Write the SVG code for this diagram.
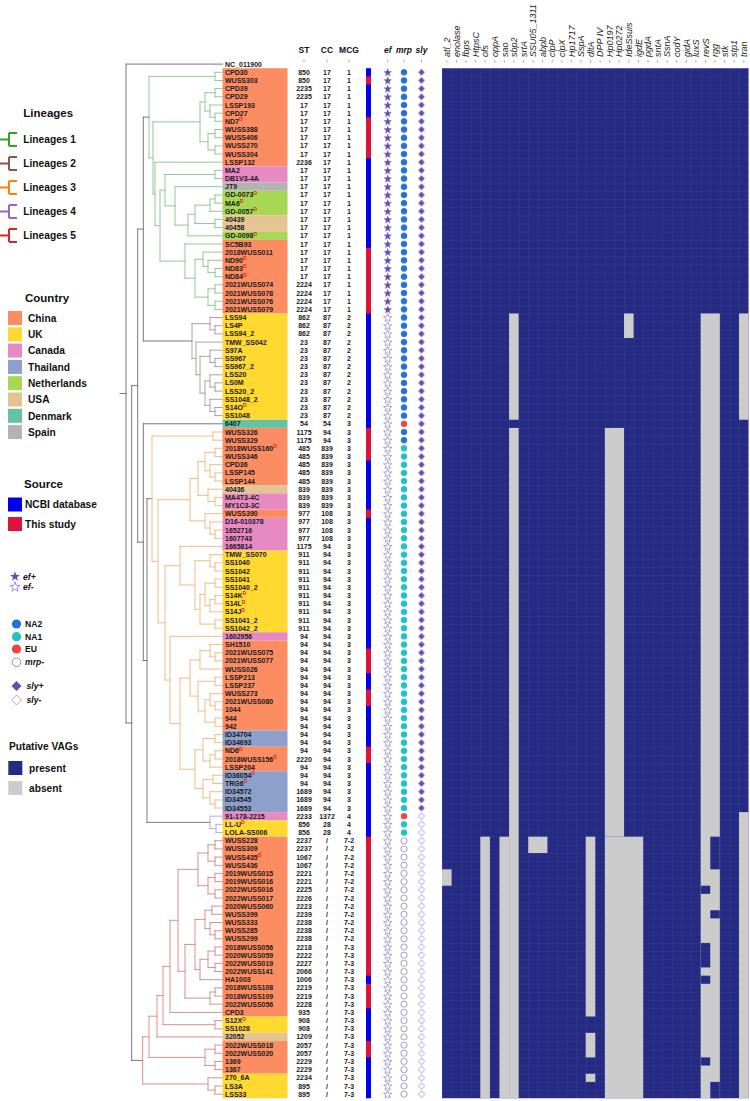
<svg xmlns="http://www.w3.org/2000/svg" xmlns:xlink="http://www.w3.org/1999/xlink" width="750" height="1101" viewBox="0 0 750 1101">
<style>
text{font-family:"Liberation Sans",Arial,sans-serif}
.nm{font-size:7px;font-weight:bold;fill:#1a1a1a}
.num{font-size:7px;font-weight:bold;fill:#1a1a1a;text-anchor:middle}
.d{font-size:5px;font-weight:bold;fill:#e8231f}
.hdr{font-size:8.5px;font-weight:bold;text-anchor:middle;fill:#111}
.it{font-style:italic}
.gene{font-size:9px;font-style:italic;text-anchor:start;fill:#222}
.lt{font-size:11.5px;font-weight:bold;fill:#111}
.li{font-size:10.2px;font-weight:bold;fill:#111}
.ls{font-size:8.6px;font-weight:bold;fill:#111}
.tk{stroke:#777;stroke-width:0.6;fill:none}
.br{fill:none;stroke-width:0.9;stroke-linecap:square}
.bb{stroke:#6b6b6b}
.l1{stroke:#86C38A}.l2{stroke:#AE9494}.l3{stroke:#F2B57A}.l4{stroke:#B3A0D6}.l5{stroke:#D48484}
.sf{fill:#6A4CAF}
.so{fill:#fff;stroke:#7B66B9;stroke-width:0.6}
.gr{fill:#CCCCCC}
.cn{fill:#FC8D62}.uk{fill:#FFD92F}.ca{fill:#E78AC3}.th{fill:#8DA0CB}.nl{fill:#A6D854}.us{fill:#E5C494}.dk{fill:#66C2A5}.es{fill:#B3B3B3}
</style>
<defs>
<path id="star" d="M0,-4.5L1.058,-1.456L4.28,-1.391L1.712,0.556L2.645,3.641L0,1.8L-2.645,3.641L-1.712,0.556L-4.28,-1.391L-1.058,-1.456Z"/>
<path id="dia" d="M0,-3.4L3.2,0L0,3.4L-3.2,0Z"/>
<pattern id="grid" patternUnits="userSpaceOnUse" x="442" y="68.2" width="9.58" height="8.175"><rect width="9.58" height="8.175" fill="#252B82"/><path d="M0,0.2H9.58M0.2,0V8.175" stroke="#414A9C" stroke-width="0.45"/></pattern>
<pattern id="pSF" patternUnits="userSpaceOnUse" x="378" y="68.2" width="20" height="8.175"><use href="#star" x="9.7" y="4.5" class="sf"/></pattern>
<pattern id="pSO" patternUnits="userSpaceOnUse" x="378" y="68.2" width="20" height="8.175"><use href="#star" x="9.7" y="4.5" class="so"/></pattern>
<pattern id="pNA2" patternUnits="userSpaceOnUse" x="394" y="68.2" width="20" height="8.175"><circle cx="10" cy="4.0875" r="3.2" fill="#2670DB"/></pattern>
<pattern id="pNA1" patternUnits="userSpaceOnUse" x="394" y="68.2" width="20" height="8.175"><circle cx="10" cy="4.0875" r="3.2" fill="#20C2C6"/></pattern>
<pattern id="pEU" patternUnits="userSpaceOnUse" x="394" y="68.2" width="20" height="8.175"><circle cx="10" cy="4.0875" r="3.2" fill="#EE4444"/></pattern>
<pattern id="pMO" patternUnits="userSpaceOnUse" x="394" y="68.2" width="20" height="8.175"><circle cx="10" cy="4.0875" r="3.1" fill="#fff" stroke="#6B55A8" stroke-width="0.6"/></pattern>
<pattern id="pDF" patternUnits="userSpaceOnUse" x="411.5" y="68.2" width="20" height="8.175"><use href="#dia" x="10" y="4.0875" class="sf"/></pattern>
<pattern id="pDO" patternUnits="userSpaceOnUse" x="411.5" y="68.2" width="20" height="8.175"><use href="#dia" x="10" y="4.0875" class="so"/></pattern>
</defs>
<rect width="750" height="1101" fill="#fff"/>

<g id="legend-lineages">
<text class="lt" x="23.3" y="116.5">Lineages</text>
<path d="M0,139.5H9M9,133V146M9,133H17M9,146H17" stroke="#33A02C" stroke-width="2" fill="none"/>
<text class="li" x="23.3" y="143.2">Lineages 1</text>
<path d="M0,163.5H9M9,157V170M9,157H17M9,170H17" stroke="#8C564B" stroke-width="2" fill="none"/>
<text class="li" x="23.3" y="167.2">Lineages 2</text>
<path d="M0,187.5H9M9,181V194M9,181H17M9,194H17" stroke="#FF7F0E" stroke-width="2" fill="none"/>
<text class="li" x="23.3" y="191.2">Lineages 3</text>
<path d="M0,211.5H9M9,205V218M9,205H17M9,218H17" stroke="#9467BD" stroke-width="2" fill="none"/>
<text class="li" x="23.3" y="215.2">Lineages 4</text>
<path d="M0,235.5H9M9,229V242M9,229H17M9,242H17" stroke="#D62728" stroke-width="2" fill="none"/>
<text class="li" x="23.3" y="239.2">Lineages 5</text>
</g>

<g id="legend-country">
<text class="lt" x="25" y="301.5">Country</text>
<rect class="cn" x="8" y="311" width="14" height="14"/><text class="li" x="28" y="321.7">China</text>
<rect class="uk" x="8" y="327.3" width="14" height="14"/><text class="li" x="28" y="338">UK</text>
<rect class="ca" x="8" y="343.6" width="14" height="14"/><text class="li" x="28" y="354.3">Canada</text>
<rect class="th" x="8" y="359.9" width="14" height="14"/><text class="li" x="28" y="370.6">Thailand</text>
<rect class="nl" x="8" y="376.2" width="14" height="14"/><text class="li" x="28" y="386.9">Netherlands</text>
<rect class="us" x="8" y="392.5" width="14" height="14"/><text class="li" x="28" y="403.2">USA</text>
<rect class="dk" x="8" y="408.8" width="14" height="14"/><text class="li" x="28" y="419.5">Denmark</text>
<rect class="es" x="8" y="425.1" width="14" height="14"/><text class="li" x="28" y="435.8">Spain</text>
</g>

<g id="legend-source">
<text class="lt" x="24" y="488.3">Source</text>
<rect x="8" y="497.5" width="14" height="14" fill="#0000EE"/><text class="li" x="25" y="508.3">NCBI database</text>
<rect x="8" y="517" width="14" height="14" fill="#DC143C"/><text class="li" x="25" y="527.8">This study</text>
</g>

<g id="legend-genes">
<use href="#star" class="sf" transform="translate(15 576.5) scale(1.15)"/>
<text class="ls it" x="23" y="579.5">ef+</text>
<use href="#star" class="so" transform="translate(15 587) scale(1.15)"/>
<text class="ls it" x="23" y="590">ef-</text>
<circle cx="16.5" cy="624" r="4.6" fill="#2670DB"/><text class="ls" x="25" y="627">NA2</text>
<circle cx="16.5" cy="636.7" r="4.6" fill="#20C2C6"/><text class="ls" x="25" y="639.7">NA1</text>
<circle cx="16.5" cy="649" r="4.6" fill="#EE4444"/><text class="ls" x="25" y="652">EU</text>
<circle cx="16.5" cy="662.3" r="4.3" fill="#fff" stroke="#6B55A8" stroke-width="0.7"/><text class="ls it" x="25" y="665.3">mrp-</text>
<path d="M16.5,681L21.5,686L16.5,691L11.5,686Z" class="sf"/><text class="ls it" x="26.5" y="689">sly+</text>
<path d="M16.5,695L21.5,700L16.5,705L11.5,700Z" class="so"/><text class="ls it" x="26.5" y="703">sly-</text>
</g>

<g id="legend-vags">
<text class="li" x="9" y="749.7">Putative VAGs</text>
<rect x="8.3" y="761" width="14" height="14" fill="#252B82"/><text class="li" x="29" y="771.7">present</text>
<rect x="8.3" y="781" width="14" height="14" fill="#CCCCCC"/><text class="li" x="29" y="791.7">absent</text>
</g>

<g id="connectors">
<path class="br bb" d="M126,64.1H222.5M126,64.1V723M120,393.55H126M126,723H131.7M131.7,385.6V1060.4M131.7,385.6H137.7M137.7,229.1V542.15M137.7,229.1H143.3M143.3,117.15V341M143.3,117.15H149M143.3,341H192M137.7,542.15H143.3M143.3,423.8V660.5M143.3,423.8H222.5M143.3,660.5H147M147,498.7V822.35M147,498.7H152M147,822.35H210M131.7,1060.4H142.7"/>
<path class="br l1" d="M215,72.3V80.5M215,72.3H222.5M215,80.5H222.5M215,88.6V96.8M215,88.6H222.5M215,96.8H222.5M215,113.2V121.3M215,113.2H222.5M215,121.3H222.5M210,105V117.25M210,105H222.5M210,117.25H215M205,92.7V111.1M205,92.7H215M205,111.1H210M215,129.5V137.7M215,129.5H222.5M215,137.7H222.5M215,145.9V154M215,145.9H222.5M215,154H222.5M208,133.6V149.95M208,133.6H215M208,149.95H215M200,101.9V141.8M200,101.9H205M200,141.8H208M215,170.4V178.6M215,170.4H222.5M215,178.6H222.5M215,194.9V203.1M215,194.9H222.5M215,203.1H222.5M210,199V211.3M210,199H215M210,211.3H222.5M215,219.4V227.6M215,219.4H222.5M215,227.6H222.5M195,205.15V223.5M195,205.15H210M195,223.5H215M188,214.3V235.8M188,214.3H195M188,235.8H222.5M175,186.7V225.05M175,186.7H222.5M175,225.05H188M165,174.5V205.9M165,174.5H215M165,205.9H175M215,268.5V276.7M215,268.5H222.5M215,276.7H222.5M208,260.3V272.6M208,260.3H222.5M208,272.6H215M203,252.1V266.45M203,252.1H222.5M203,266.45H208M215,284.8V293M215,284.8H222.5M215,293H222.5M215,301.2V309.4M215,301.2H222.5M215,309.4H222.5M208,288.9V305.3M208,288.9H215M208,305.3H215M195,259.3V297.1M195,259.3H203M195,297.1H208M185,244V278.2M185,244H222.5M185,278.2H195M160,190.2V261.1M160,190.2H165M160,261.1H185M155,162.2V225.65M155,162.2H222.5M155,225.65H160M153,121.85V193.9M153,121.85H200M153,193.9H155M149,76.4V157.9M149,76.4H215M149,157.9H153"/>
<path class="br l2" d="M215,325.7V333.9M215,325.7H222.5M215,333.9H222.5M210,317.5V329.8M210,317.5H222.5M210,329.8H215M215,358.4V366.6M215,358.4H222.5M215,366.6H222.5M210,350.2V362.5M210,350.2H222.5M210,362.5H215M215,382.9V391.1M215,382.9H222.5M215,391.1H222.5M210,374.8V387M210,374.8H222.5M210,387H215M215,407.5V415.6M215,407.5H222.5M215,415.6H222.5M210,399.3V411.55M210,399.3H222.5M210,411.55H215M205,380.9V405.4M205,380.9H210M205,405.4H210M200,356.35V393.15M200,356.35H210M200,393.15H205M196,342.1V374.75M196,342.1H222.5M196,374.75H200M192,323.65V358.4M192,323.65H210M192,358.4H196"/>
<path class="br l3" d="M213,432V440.2M213,432H222.5M213,440.2H222.5M215,448.3V456.5M215,448.3H222.5M215,456.5H222.5M215,472.9V481M215,472.9H222.5M215,481H222.5M210,464.7V476.95M210,464.7H222.5M210,476.95H215M205,452.4V470.8M205,452.4H215M205,470.8H210M215,497.4V505.6M215,497.4H222.5M215,505.6H222.5M208,489.2V501.5M208,489.2H222.5M208,501.5H215M198,461.6V495.35M198,461.6H205M198,495.35H208M215,530.1V538.3M215,530.1H222.5M215,538.3H222.5M210,521.9V534.2M210,521.9H222.5M210,534.2H215M205,513.7V528.05M205,513.7H222.5M205,528.05H210M190,478.5V520.9M190,478.5H198M190,520.9H205M215,562.8V571M215,562.8H222.5M215,571H222.5M210,554.6V566.9M210,554.6H222.5M210,566.9H215M215,579.1V587.3M215,579.1H222.5M215,587.3H222.5M215,595.5V603.7M215,595.5H222.5M215,603.7H222.5M210,599.6V611.8M210,599.6H215M210,611.8H222.5M205,583.2V605.7M205,583.2H215M205,605.7H210M215,620V628.2M215,620H222.5M215,628.2H222.5M200,594.45V624.1M200,594.45H205M200,624.1H215M195,560.75V609.3M195,560.75H210M195,609.3H200M180,546.4V585M180,546.4H222.5M180,585H195M215,652.7V660.9M215,652.7H222.5M215,660.9H222.5M210,644.5V656.8M210,644.5H222.5M210,656.8H215M200,650.65V669.1M200,650.65H210M200,669.1H222.5M215,677.2V685.4M215,677.2H222.5M215,685.4H222.5M215,701.8V709.9M215,701.8H222.5M215,709.9H222.5M210,693.6V705.85M210,693.6H222.5M210,705.85H215M215,718.1V726.3M215,718.1H222.5M215,726.3H222.5M205,699.7V722.2M205,699.7H210M205,722.2H215M198,681.3V710.95M198,681.3H215M198,710.95H205M190,659.9V696.1M190,659.9H200M190,696.1H198M215,734.5V742.6M215,734.5H222.5M215,742.6H222.5M215,750.8V759M215,750.8H222.5M215,759H222.5M210,754.9V767.2M210,754.9H215M210,767.2H222.5M203,738.55V761.05M203,738.55H215M203,761.05H210M213,775.3V783.5M213,775.3H222.5M213,783.5H222.5M215,799.9V808M215,799.9H222.5M215,808H222.5M210,791.7V803.95M210,791.7H222.5M210,803.95H215M203,779.4V797.8M203,779.4H213M203,797.8H210M195,749.8V788.6M195,749.8H203M195,788.6H203M180,678V769.2M180,678H190M180,769.2H195M170,636.4V723.6M170,636.4H222.5M170,723.6H180M165,565.7V680M165,565.7H180M165,680H170M158,499.7V622.85M158,499.7H190M158,622.85H165M152,436.1V561.3M152,436.1H213M152,561.3H158"/>
<path class="br l4" d="M216,824.4V832.6M216,824.4H222.5M216,832.6H222.5M210,816.2V828.5M210,816.2H222.5M210,828.5H216"/>
<path class="br l5" d="M215,840.7V848.9M215,840.7H222.5M215,848.9H222.5M215,857.1V865.3M215,857.1H222.5M215,865.3H222.5M208,844.8V861.2M208,844.8H215M208,861.2H215M215,873.4V881.6M215,873.4H222.5M215,881.6H222.5M215,889.8V898M215,889.8H222.5M215,898H222.5M208,877.5V893.9M208,877.5H215M208,893.9H215M198,853V885.7M198,853H208M198,885.7H208M212,906.1V914.3M212,906.1H222.5M212,914.3H222.5M215,930.7V938.8M215,930.7H222.5M215,938.8H222.5M210,922.5V934.75M210,922.5H222.5M210,934.75H215M205,910.2V928.6M205,910.2H212M205,928.6H210M215,947V955.2M215,947H222.5M215,955.2H222.5M215,963.4V971.5M215,963.4H222.5M215,971.5H222.5M208,951.1V967.45M208,951.1H215M208,967.45H215M200,959.3V979.7M200,959.3H208M200,979.7H222.5M195,919.4V969.5M195,919.4H205M195,969.5H200M215,987.9V996.1M215,987.9H222.5M215,996.1H222.5M210,992V1004.2M210,992H215M210,1004.2H222.5M185,944.45V998.1M185,944.45H195M185,998.1H210M178,869.35V971.3M178,869.35H198M178,971.3H185M170,920.3V1012.4M170,920.3H178M170,1012.4H222.5M215,1020.6V1028.8M215,1020.6H222.5M215,1028.8H222.5M163,966.35V1024.7M163,966.35H170M163,1024.7H215M157,995.5V1036.9M157,995.5H163M157,1036.9H222.5M215,1045.1V1053.3M215,1045.1H222.5M215,1053.3H222.5M215,1061.5V1069.6M215,1061.5H222.5M215,1069.6H222.5M205,1049.2V1065.55M205,1049.2H215M205,1065.55H215M149,1016.2V1057.4M149,1016.2H157M149,1057.4H205M215,1086V1094.2M215,1086H222.5M215,1094.2H222.5M208,1077.8V1090.1M208,1077.8H222.5M208,1090.1H215M142.7,1036.8V1083.95M142.7,1036.8H149M142.7,1083.95H208"/>
</g>

<g id="country-boxes">
<rect class="cn" x="222.5" y="68.2" width="65" height="98.1"/>
<rect class="ca" x="222.5" y="166.3" width="65" height="16.35"/>
<rect class="es" x="222.5" y="182.65" width="65" height="8.175"/>
<rect class="nl" x="222.5" y="190.825" width="65" height="24.525"/>
<rect class="us" x="222.5" y="215.35" width="65" height="16.35"/>
<rect class="nl" x="222.5" y="231.7" width="65" height="8.175"/>
<rect class="cn" x="222.5" y="239.875" width="65" height="73.575"/>
<rect class="uk" x="222.5" y="313.45" width="65" height="106.275"/>
<rect class="dk" x="222.5" y="419.725" width="65" height="8.175"/>
<rect class="cn" x="222.5" y="427.9" width="65" height="57.225"/>
<rect class="us" x="222.5" y="485.125" width="65" height="8.175"/>
<rect class="ca" x="222.5" y="493.3" width="65" height="16.35"/>
<rect class="cn" x="222.5" y="509.65" width="65" height="8.175"/>
<rect class="ca" x="222.5" y="517.825" width="65" height="32.7"/>
<rect class="uk" x="222.5" y="550.525" width="65" height="81.75"/>
<rect class="ca" x="222.5" y="632.275" width="65" height="8.175"/>
<rect class="cn" x="222.5" y="640.45" width="65" height="89.925"/>
<rect class="th" x="222.5" y="730.375" width="65" height="16.35"/>
<rect class="cn" x="222.5" y="746.725" width="65" height="24.525"/>
<rect class="th" x="222.5" y="771.25" width="65" height="40.875"/>
<rect class="ca" x="222.5" y="812.125" width="65" height="8.175"/>
<rect class="uk" x="222.5" y="820.3" width="65" height="16.35"/>
<rect class="cn" x="222.5" y="836.65" width="65" height="179.85"/>
<rect class="uk" x="222.5" y="1016.5" width="65" height="16.35"/>
<rect class="us" x="222.5" y="1032.85" width="65" height="8.175"/>
<rect class="cn" x="222.5" y="1041.025" width="65" height="32.7"/>
<rect class="uk" x="222.5" y="1073.725" width="65" height="24.525"/>
</g>

<g id="tip-labels">
<text class="nm"><tspan x="225" y="66.6">NC_011900</tspan><tspan x="225" y="74.8">CPD30</tspan><tspan x="225" y="83">WUSS303</tspan><tspan x="225" y="91.1">CPD39</tspan><tspan x="225" y="99.3">CPD29</tspan><tspan x="225" y="107.5">LSSP193</tspan><tspan x="225" y="115.7">CPD27</tspan><tspan x="225" y="123.8">ND7</tspan><tspan class="d" dy="-2.6">D</tspan><tspan x="225" y="132">WUSS388</tspan><tspan x="225" y="140.2">WUSS406</tspan><tspan x="225" y="148.4">WUSS270</tspan><tspan x="225" y="156.5">WUSS304</tspan><tspan x="225" y="164.7">LSSP132</tspan><tspan x="225" y="172.9">MA2</tspan><tspan x="225" y="181.1">DB1V3-4A</tspan><tspan x="225" y="189.2">JT9</tspan><tspan x="225" y="197.4">GD-0073</tspan><tspan class="d" dy="-2.6">D</tspan><tspan x="225" y="205.6">MA6</tspan><tspan class="d" dy="-2.6">D</tspan><tspan x="225" y="213.8">GD-0057</tspan><tspan class="d" dy="-2.6">D</tspan><tspan x="225" y="221.9">40439</tspan><tspan x="225" y="230.1">40458</tspan><tspan x="225" y="238.3">GD-0098</tspan><tspan class="d" dy="-2.6">D</tspan><tspan x="225" y="246.5">SC5B93</tspan><tspan x="225" y="254.6">2018WUSS011</tspan><tspan x="225" y="262.8">ND90</tspan><tspan class="d" dy="-2.6">D</tspan><tspan x="225" y="271">ND83</tspan><tspan class="d" dy="-2.6">D</tspan><tspan x="225" y="279.2">ND84</tspan><tspan class="d" dy="-2.6">D</tspan><tspan x="225" y="287.3">2021WUSS074</tspan><tspan x="225" y="295.5">2021WUSS078</tspan><tspan x="225" y="303.7">2021WUSS076</tspan><tspan x="225" y="311.9">2021WUSS079</tspan><tspan x="225" y="320">LSS94</tspan><tspan x="225" y="328.2">LS4P</tspan><tspan x="225" y="336.4">LSS94_2</tspan><tspan x="225" y="344.6">TMW_SS042</tspan><tspan x="225" y="352.7">S97A</tspan><tspan x="225" y="360.9">SS967</tspan><tspan x="225" y="369.1">SS967_2</tspan><tspan x="225" y="377.3">LSS20</tspan><tspan x="225" y="385.4">LS0M</tspan><tspan x="225" y="393.6">LSS20_2</tspan><tspan x="225" y="401.8">SS1048_2</tspan><tspan x="225" y="410">S14O</tspan><tspan class="d" dy="-2.6">D</tspan><tspan x="225" y="418.1">SS1048</tspan><tspan x="225" y="426.3">6407</tspan><tspan x="225" y="434.5">WUSS326</tspan><tspan x="225" y="442.7">WUSS329</tspan><tspan x="225" y="450.8">2018WUSS160</tspan><tspan class="d" dy="-2.6">D</tspan><tspan x="225" y="459">WUSS346</tspan><tspan x="225" y="467.2">CPD36</tspan><tspan x="225" y="475.4">LSSP145</tspan><tspan x="225" y="483.5">LSSP144</tspan><tspan x="225" y="491.7">40436</tspan><tspan x="225" y="499.9">MA4T3-4C</tspan><tspan x="225" y="508.1">MY1C3-3C</tspan><tspan x="225" y="516.2">WUSS390</tspan><tspan x="225" y="524.4">D16-010378</tspan><tspan x="225" y="532.6">1652716</tspan><tspan x="225" y="540.8">1607743</tspan><tspan x="225" y="548.9">1665814</tspan><tspan x="225" y="557.1">TMW_SS070</tspan><tspan x="225" y="565.3">SS1040</tspan><tspan x="225" y="573.5">SS1042</tspan><tspan x="225" y="581.6">SS1041</tspan><tspan x="225" y="589.8">SS1040_2</tspan><tspan x="225" y="598">S14K</tspan><tspan class="d" dy="-2.6">D</tspan><tspan x="225" y="606.2">S14L</tspan><tspan class="d" dy="-2.6">D</tspan><tspan x="225" y="614.3">S14J</tspan><tspan class="d" dy="-2.6">D</tspan><tspan x="225" y="622.5">SS1041_2</tspan><tspan x="225" y="630.7">SS1042_2</tspan><tspan x="225" y="638.9">1602956</tspan><tspan x="225" y="647">SH1510</tspan><tspan x="225" y="655.2">2021WUSS075</tspan><tspan x="225" y="663.4">2021WUSS077</tspan><tspan x="225" y="671.6">WUSS026</tspan><tspan x="225" y="679.7">LSSP213</tspan><tspan x="225" y="687.9">LSSP237</tspan><tspan x="225" y="696.1">WUSS273</tspan><tspan x="225" y="704.3">2021WUSS080</tspan><tspan x="225" y="712.4">1044</tspan><tspan x="225" y="720.6">944</tspan><tspan x="225" y="728.8">942</tspan><tspan x="225" y="737">ID34704</tspan><tspan x="225" y="745.1">ID34693</tspan><tspan x="225" y="753.3">ND6</tspan><tspan class="d" dy="-2.6">D</tspan><tspan x="225" y="761.5">2018WUSS156</tspan><tspan class="d" dy="-2.6">D</tspan><tspan x="225" y="769.7">LSSP204</tspan><tspan x="225" y="777.8">ID36054</tspan><tspan class="d" dy="-2.6">D</tspan><tspan x="225" y="786">TRG6</tspan><tspan class="d" dy="-2.6">D</tspan><tspan x="225" y="794.2">ID34572</tspan><tspan x="225" y="802.4">ID34545</tspan><tspan x="225" y="810.5">ID34553</tspan><tspan x="225" y="818.7">91-178-2215</tspan><tspan x="225" y="826.9">LL-U</tspan><tspan class="d" dy="-2.6">D</tspan><tspan x="225" y="835.1">LOLA-SS006</tspan><tspan x="225" y="843.2">WUSS228</tspan><tspan x="225" y="851.4">WUSS309</tspan><tspan x="225" y="859.6">WUSS435</tspan><tspan class="d" dy="-2.6">D</tspan><tspan x="225" y="867.8">WUSS436</tspan><tspan x="225" y="875.9">2019WUSS015</tspan><tspan x="225" y="884.1">2019WUSS016</tspan><tspan x="225" y="892.3">2022WUSS016</tspan><tspan x="225" y="900.5">2022WUSS017</tspan><tspan x="225" y="908.6">2020WUSS060</tspan><tspan x="225" y="916.8">WUSS399</tspan><tspan x="225" y="925">WUSS333</tspan><tspan x="225" y="933.2">WUSS285</tspan><tspan x="225" y="941.3">WUSS299</tspan><tspan x="225" y="949.5">2018WUSS056</tspan><tspan x="225" y="957.7">2020WUSS059</tspan><tspan x="225" y="965.9">2022WUSS019</tspan><tspan x="225" y="974">2022WUSS141</tspan><tspan x="225" y="982.2">HA1003</tspan><tspan x="225" y="990.4">2018WUSS108</tspan><tspan x="225" y="998.6">2018WUSS109</tspan><tspan x="225" y="1006.7">2022WUSS056</tspan><tspan x="225" y="1014.9">CPD3</tspan><tspan x="225" y="1023.1">S12X</tspan><tspan class="d" dy="-2.6">D</tspan><tspan x="225" y="1031.3">SS1028</tspan><tspan x="225" y="1039.4">32052</tspan><tspan x="225" y="1047.6">2022WUSS018</tspan><tspan x="225" y="1055.8">2022WUSS020</tspan><tspan x="225" y="1064">1369</tspan><tspan x="225" y="1072.1">1367</tspan><tspan x="225" y="1080.3">270_6A</tspan><tspan x="225" y="1088.5">LS3A</tspan><tspan x="225" y="1096.7">LSS33</tspan></text>
</g>

<g id="col-headers">
<text class="hdr" x="304" y="53">ST</text>
<text class="hdr" x="327" y="53">CC</text>
<text class="hdr" x="349" y="53">MCG</text>
<text class="hdr it" x="387.7" y="53">ef</text>
<text class="hdr it" x="404" y="53">mrp</text>
<text class="hdr it" x="421.5" y="53">sly</text>
<path class="tk" d="M304,59.5v3M327,59.5v3M349,59.5v3M387.7,59.5v3M404,59.5v3M421.5,59.5v3"/>
</g>

<g id="col-ST">
<text class="num"><tspan x="304" y="74.8">850</tspan><tspan x="304" y="83">850</tspan><tspan x="304" y="91.1">2235</tspan><tspan x="304" y="99.3">2235</tspan><tspan x="304" y="107.5">17</tspan><tspan x="304" y="115.7">17</tspan><tspan x="304" y="123.8">17</tspan><tspan x="304" y="132">17</tspan><tspan x="304" y="140.2">17</tspan><tspan x="304" y="148.4">17</tspan><tspan x="304" y="156.5">17</tspan><tspan x="304" y="164.7">2236</tspan><tspan x="304" y="172.9">17</tspan><tspan x="304" y="181.1">17</tspan><tspan x="304" y="189.2">17</tspan><tspan x="304" y="197.4">17</tspan><tspan x="304" y="205.6">17</tspan><tspan x="304" y="213.8">17</tspan><tspan x="304" y="221.9">17</tspan><tspan x="304" y="230.1">17</tspan><tspan x="304" y="238.3">17</tspan><tspan x="304" y="246.5">17</tspan><tspan x="304" y="254.6">17</tspan><tspan x="304" y="262.8">17</tspan><tspan x="304" y="271">17</tspan><tspan x="304" y="279.2">17</tspan><tspan x="304" y="287.3">2224</tspan><tspan x="304" y="295.5">2224</tspan><tspan x="304" y="303.7">2224</tspan><tspan x="304" y="311.9">2224</tspan><tspan x="304" y="320">862</tspan><tspan x="304" y="328.2">862</tspan><tspan x="304" y="336.4">862</tspan><tspan x="304" y="344.6">23</tspan><tspan x="304" y="352.7">23</tspan><tspan x="304" y="360.9">23</tspan><tspan x="304" y="369.1">23</tspan><tspan x="304" y="377.3">23</tspan><tspan x="304" y="385.4">23</tspan><tspan x="304" y="393.6">23</tspan><tspan x="304" y="401.8">23</tspan><tspan x="304" y="410">23</tspan><tspan x="304" y="418.1">23</tspan><tspan x="304" y="426.3">54</tspan><tspan x="304" y="434.5">1175</tspan><tspan x="304" y="442.7">1175</tspan><tspan x="304" y="450.8">485</tspan><tspan x="304" y="459">485</tspan><tspan x="304" y="467.2">485</tspan><tspan x="304" y="475.4">485</tspan><tspan x="304" y="483.5">485</tspan><tspan x="304" y="491.7">839</tspan><tspan x="304" y="499.9">839</tspan><tspan x="304" y="508.1">839</tspan><tspan x="304" y="516.2">977</tspan><tspan x="304" y="524.4">977</tspan><tspan x="304" y="532.6">977</tspan><tspan x="304" y="540.8">977</tspan><tspan x="304" y="548.9">1175</tspan><tspan x="304" y="557.1">911</tspan><tspan x="304" y="565.3">911</tspan><tspan x="304" y="573.5">911</tspan><tspan x="304" y="581.6">911</tspan><tspan x="304" y="589.8">911</tspan><tspan x="304" y="598">911</tspan><tspan x="304" y="606.2">911</tspan><tspan x="304" y="614.3">911</tspan><tspan x="304" y="622.5">911</tspan><tspan x="304" y="630.7">911</tspan><tspan x="304" y="638.9">94</tspan><tspan x="304" y="647">94</tspan><tspan x="304" y="655.2">94</tspan><tspan x="304" y="663.4">94</tspan><tspan x="304" y="671.6">94</tspan><tspan x="304" y="679.7">94</tspan><tspan x="304" y="687.9">94</tspan><tspan x="304" y="696.1">94</tspan><tspan x="304" y="704.3">94</tspan><tspan x="304" y="712.4">94</tspan><tspan x="304" y="720.6">94</tspan><tspan x="304" y="728.8">94</tspan><tspan x="304" y="737">94</tspan><tspan x="304" y="745.1">94</tspan><tspan x="304" y="753.3">94</tspan><tspan x="304" y="761.5">2220</tspan><tspan x="304" y="769.7">94</tspan><tspan x="304" y="777.8">94</tspan><tspan x="304" y="786">94</tspan><tspan x="304" y="794.2">1689</tspan><tspan x="304" y="802.4">1689</tspan><tspan x="304" y="810.5">1689</tspan><tspan x="304" y="818.7">2233</tspan><tspan x="304" y="826.9">856</tspan><tspan x="304" y="835.1">856</tspan><tspan x="304" y="843.2">2237</tspan><tspan x="304" y="851.4">2237</tspan><tspan x="304" y="859.6">1067</tspan><tspan x="304" y="867.8">1067</tspan><tspan x="304" y="875.9">2221</tspan><tspan x="304" y="884.1">2221</tspan><tspan x="304" y="892.3">2225</tspan><tspan x="304" y="900.5">2226</tspan><tspan x="304" y="908.6">2223</tspan><tspan x="304" y="916.8">2239</tspan><tspan x="304" y="925">2238</tspan><tspan x="304" y="933.2">2238</tspan><tspan x="304" y="941.3">2238</tspan><tspan x="304" y="949.5">2218</tspan><tspan x="304" y="957.7">2222</tspan><tspan x="304" y="965.9">2227</tspan><tspan x="304" y="974">2066</tspan><tspan x="304" y="982.2">1006</tspan><tspan x="304" y="990.4">2219</tspan><tspan x="304" y="998.6">2219</tspan><tspan x="304" y="1006.7">2228</tspan><tspan x="304" y="1014.9">935</tspan><tspan x="304" y="1023.1">908</tspan><tspan x="304" y="1031.3">908</tspan><tspan x="304" y="1039.4">1209</tspan><tspan x="304" y="1047.6">2057</tspan><tspan x="304" y="1055.8">2057</tspan><tspan x="304" y="1064">2229</tspan><tspan x="304" y="1072.1">2229</tspan><tspan x="304" y="1080.3">2234</tspan><tspan x="304" y="1088.5">895</tspan><tspan x="304" y="1096.7">895</tspan></text>
</g>

<g id="col-CC">
<text class="num"><tspan x="327" y="74.8">17</tspan><tspan x="327" y="83">17</tspan><tspan x="327" y="91.1">17</tspan><tspan x="327" y="99.3">17</tspan><tspan x="327" y="107.5">17</tspan><tspan x="327" y="115.7">17</tspan><tspan x="327" y="123.8">17</tspan><tspan x="327" y="132">17</tspan><tspan x="327" y="140.2">17</tspan><tspan x="327" y="148.4">17</tspan><tspan x="327" y="156.5">17</tspan><tspan x="327" y="164.7">17</tspan><tspan x="327" y="172.9">17</tspan><tspan x="327" y="181.1">17</tspan><tspan x="327" y="189.2">17</tspan><tspan x="327" y="197.4">17</tspan><tspan x="327" y="205.6">17</tspan><tspan x="327" y="213.8">17</tspan><tspan x="327" y="221.9">17</tspan><tspan x="327" y="230.1">17</tspan><tspan x="327" y="238.3">17</tspan><tspan x="327" y="246.5">17</tspan><tspan x="327" y="254.6">17</tspan><tspan x="327" y="262.8">17</tspan><tspan x="327" y="271">17</tspan><tspan x="327" y="279.2">17</tspan><tspan x="327" y="287.3">17</tspan><tspan x="327" y="295.5">17</tspan><tspan x="327" y="303.7">17</tspan><tspan x="327" y="311.9">17</tspan><tspan x="327" y="320">87</tspan><tspan x="327" y="328.2">87</tspan><tspan x="327" y="336.4">87</tspan><tspan x="327" y="344.6">87</tspan><tspan x="327" y="352.7">87</tspan><tspan x="327" y="360.9">87</tspan><tspan x="327" y="369.1">87</tspan><tspan x="327" y="377.3">87</tspan><tspan x="327" y="385.4">87</tspan><tspan x="327" y="393.6">87</tspan><tspan x="327" y="401.8">87</tspan><tspan x="327" y="410">87</tspan><tspan x="327" y="418.1">87</tspan><tspan x="327" y="426.3">54</tspan><tspan x="327" y="434.5">94</tspan><tspan x="327" y="442.7">94</tspan><tspan x="327" y="450.8">839</tspan><tspan x="327" y="459">839</tspan><tspan x="327" y="467.2">839</tspan><tspan x="327" y="475.4">839</tspan><tspan x="327" y="483.5">839</tspan><tspan x="327" y="491.7">839</tspan><tspan x="327" y="499.9">839</tspan><tspan x="327" y="508.1">839</tspan><tspan x="327" y="516.2">108</tspan><tspan x="327" y="524.4">108</tspan><tspan x="327" y="532.6">108</tspan><tspan x="327" y="540.8">108</tspan><tspan x="327" y="548.9">94</tspan><tspan x="327" y="557.1">94</tspan><tspan x="327" y="565.3">94</tspan><tspan x="327" y="573.5">94</tspan><tspan x="327" y="581.6">94</tspan><tspan x="327" y="589.8">94</tspan><tspan x="327" y="598">94</tspan><tspan x="327" y="606.2">94</tspan><tspan x="327" y="614.3">94</tspan><tspan x="327" y="622.5">94</tspan><tspan x="327" y="630.7">94</tspan><tspan x="327" y="638.9">94</tspan><tspan x="327" y="647">94</tspan><tspan x="327" y="655.2">94</tspan><tspan x="327" y="663.4">94</tspan><tspan x="327" y="671.6">94</tspan><tspan x="327" y="679.7">94</tspan><tspan x="327" y="687.9">94</tspan><tspan x="327" y="696.1">94</tspan><tspan x="327" y="704.3">94</tspan><tspan x="327" y="712.4">94</tspan><tspan x="327" y="720.6">94</tspan><tspan x="327" y="728.8">94</tspan><tspan x="327" y="737">94</tspan><tspan x="327" y="745.1">94</tspan><tspan x="327" y="753.3">94</tspan><tspan x="327" y="761.5">94</tspan><tspan x="327" y="769.7">94</tspan><tspan x="327" y="777.8">94</tspan><tspan x="327" y="786">94</tspan><tspan x="327" y="794.2">94</tspan><tspan x="327" y="802.4">94</tspan><tspan x="327" y="810.5">94</tspan><tspan x="327" y="818.7">1372</tspan><tspan x="327" y="826.9">28</tspan><tspan x="327" y="835.1">28</tspan><tspan x="327" y="843.2">/</tspan><tspan x="327" y="851.4">/</tspan><tspan x="327" y="859.6">/</tspan><tspan x="327" y="867.8">/</tspan><tspan x="327" y="875.9">/</tspan><tspan x="327" y="884.1">/</tspan><tspan x="327" y="892.3">/</tspan><tspan x="327" y="900.5">/</tspan><tspan x="327" y="908.6">/</tspan><tspan x="327" y="916.8">/</tspan><tspan x="327" y="925">/</tspan><tspan x="327" y="933.2">/</tspan><tspan x="327" y="941.3">/</tspan><tspan x="327" y="949.5">/</tspan><tspan x="327" y="957.7">/</tspan><tspan x="327" y="965.9">/</tspan><tspan x="327" y="974">/</tspan><tspan x="327" y="982.2">/</tspan><tspan x="327" y="990.4">/</tspan><tspan x="327" y="998.6">/</tspan><tspan x="327" y="1006.7">/</tspan><tspan x="327" y="1014.9">/</tspan><tspan x="327" y="1023.1">/</tspan><tspan x="327" y="1031.3">/</tspan><tspan x="327" y="1039.4">/</tspan><tspan x="327" y="1047.6">/</tspan><tspan x="327" y="1055.8">/</tspan><tspan x="327" y="1064">/</tspan><tspan x="327" y="1072.1">/</tspan><tspan x="327" y="1080.3">/</tspan><tspan x="327" y="1088.5">/</tspan><tspan x="327" y="1096.7">/</tspan></text>
</g>

<g id="col-MCG">
<text class="num"><tspan x="349" y="74.8">1</tspan><tspan x="349" y="83">1</tspan><tspan x="349" y="91.1">1</tspan><tspan x="349" y="99.3">1</tspan><tspan x="349" y="107.5">1</tspan><tspan x="349" y="115.7">1</tspan><tspan x="349" y="123.8">1</tspan><tspan x="349" y="132">1</tspan><tspan x="349" y="140.2">1</tspan><tspan x="349" y="148.4">1</tspan><tspan x="349" y="156.5">1</tspan><tspan x="349" y="164.7">1</tspan><tspan x="349" y="172.9">1</tspan><tspan x="349" y="181.1">1</tspan><tspan x="349" y="189.2">1</tspan><tspan x="349" y="197.4">1</tspan><tspan x="349" y="205.6">1</tspan><tspan x="349" y="213.8">1</tspan><tspan x="349" y="221.9">1</tspan><tspan x="349" y="230.1">1</tspan><tspan x="349" y="238.3">1</tspan><tspan x="349" y="246.5">1</tspan><tspan x="349" y="254.6">1</tspan><tspan x="349" y="262.8">1</tspan><tspan x="349" y="271">1</tspan><tspan x="349" y="279.2">1</tspan><tspan x="349" y="287.3">1</tspan><tspan x="349" y="295.5">1</tspan><tspan x="349" y="303.7">1</tspan><tspan x="349" y="311.9">1</tspan><tspan x="349" y="320">2</tspan><tspan x="349" y="328.2">2</tspan><tspan x="349" y="336.4">2</tspan><tspan x="349" y="344.6">2</tspan><tspan x="349" y="352.7">2</tspan><tspan x="349" y="360.9">2</tspan><tspan x="349" y="369.1">2</tspan><tspan x="349" y="377.3">2</tspan><tspan x="349" y="385.4">2</tspan><tspan x="349" y="393.6">2</tspan><tspan x="349" y="401.8">2</tspan><tspan x="349" y="410">2</tspan><tspan x="349" y="418.1">2</tspan><tspan x="349" y="426.3">3</tspan><tspan x="349" y="434.5">3</tspan><tspan x="349" y="442.7">3</tspan><tspan x="349" y="450.8">3</tspan><tspan x="349" y="459">3</tspan><tspan x="349" y="467.2">3</tspan><tspan x="349" y="475.4">3</tspan><tspan x="349" y="483.5">3</tspan><tspan x="349" y="491.7">3</tspan><tspan x="349" y="499.9">3</tspan><tspan x="349" y="508.1">3</tspan><tspan x="349" y="516.2">3</tspan><tspan x="349" y="524.4">3</tspan><tspan x="349" y="532.6">3</tspan><tspan x="349" y="540.8">3</tspan><tspan x="349" y="548.9">3</tspan><tspan x="349" y="557.1">3</tspan><tspan x="349" y="565.3">3</tspan><tspan x="349" y="573.5">3</tspan><tspan x="349" y="581.6">3</tspan><tspan x="349" y="589.8">3</tspan><tspan x="349" y="598">3</tspan><tspan x="349" y="606.2">3</tspan><tspan x="349" y="614.3">3</tspan><tspan x="349" y="622.5">3</tspan><tspan x="349" y="630.7">3</tspan><tspan x="349" y="638.9">3</tspan><tspan x="349" y="647">3</tspan><tspan x="349" y="655.2">3</tspan><tspan x="349" y="663.4">3</tspan><tspan x="349" y="671.6">3</tspan><tspan x="349" y="679.7">3</tspan><tspan x="349" y="687.9">3</tspan><tspan x="349" y="696.1">3</tspan><tspan x="349" y="704.3">3</tspan><tspan x="349" y="712.4">3</tspan><tspan x="349" y="720.6">3</tspan><tspan x="349" y="728.8">3</tspan><tspan x="349" y="737">3</tspan><tspan x="349" y="745.1">3</tspan><tspan x="349" y="753.3">3</tspan><tspan x="349" y="761.5">3</tspan><tspan x="349" y="769.7">3</tspan><tspan x="349" y="777.8">3</tspan><tspan x="349" y="786">3</tspan><tspan x="349" y="794.2">3</tspan><tspan x="349" y="802.4">3</tspan><tspan x="349" y="810.5">3</tspan><tspan x="349" y="818.7">4</tspan><tspan x="349" y="826.9">4</tspan><tspan x="349" y="835.1">4</tspan><tspan x="349" y="843.2">7-2</tspan><tspan x="349" y="851.4">7-2</tspan><tspan x="349" y="859.6">7-2</tspan><tspan x="349" y="867.8">7-2</tspan><tspan x="349" y="875.9">7-2</tspan><tspan x="349" y="884.1">7-2</tspan><tspan x="349" y="892.3">7-2</tspan><tspan x="349" y="900.5">7-2</tspan><tspan x="349" y="908.6">7-2</tspan><tspan x="349" y="916.8">7-2</tspan><tspan x="349" y="925">7-2</tspan><tspan x="349" y="933.2">7-2</tspan><tspan x="349" y="941.3">7-2</tspan><tspan x="349" y="949.5">7-3</tspan><tspan x="349" y="957.7">7-3</tspan><tspan x="349" y="965.9">7-3</tspan><tspan x="349" y="974">7-3</tspan><tspan x="349" y="982.2">7-3</tspan><tspan x="349" y="990.4">7-3</tspan><tspan x="349" y="998.6">7-3</tspan><tspan x="349" y="1006.7">7-3</tspan><tspan x="349" y="1014.9">7-3</tspan><tspan x="349" y="1023.1">7-3</tspan><tspan x="349" y="1031.3">7-3</tspan><tspan x="349" y="1039.4">7-3</tspan><tspan x="349" y="1047.6">7-3</tspan><tspan x="349" y="1055.8">7-3</tspan><tspan x="349" y="1064">7-3</tspan><tspan x="349" y="1072.1">7-3</tspan><tspan x="349" y="1080.3">7-3</tspan><tspan x="349" y="1088.5">7-3</tspan><tspan x="349" y="1096.7">7-3</tspan></text>
</g>

<g id="source-bar">
<rect x="366" y="68.2" width="5" height="1030.05" fill="#0000EE"/>
<g fill="#DC143C">
<rect x="366" y="76.375" width="5" height="8.175"/>
<rect x="366" y="117.25" width="5" height="40.875"/>
<rect x="366" y="248.05" width="5" height="65.4"/>
<rect x="366" y="427.9" width="5" height="32.7"/>
<rect x="366" y="509.65" width="5" height="8.175"/>
<rect x="366" y="648.625" width="5" height="24.525"/>
<rect x="366" y="689.5" width="5" height="16.35"/>
<rect x="366" y="746.725" width="5" height="16.35"/>
<rect x="366" y="836.65" width="5" height="138.975"/>
<rect x="366" y="983.8" width="5" height="24.525"/>
<rect x="366" y="1041.025" width="5" height="16.35"/>
</g>
</g>

<g id="gene-symbols">
<rect x="378" y="68.2" width="20" height="245.25" fill="url(#pSF)"/>
<rect x="378" y="313.45" width="20" height="784.8" fill="url(#pSO)"/>
<rect x="394" y="68.2" width="20" height="351.525" fill="url(#pNA2)"/>
<rect x="394" y="419.725" width="20" height="8.175" fill="url(#pEU)"/>
<rect x="394" y="427.9" width="20" height="16.35" fill="url(#pNA2)"/>
<rect x="394" y="444.25" width="20" height="367.875" fill="url(#pNA1)"/>
<rect x="394" y="812.125" width="20" height="8.175" fill="url(#pEU)"/>
<rect x="394" y="820.3" width="20" height="16.35" fill="url(#pNA1)"/>
<rect x="394" y="836.65" width="20" height="261.6" fill="url(#pMO)"/>
<rect x="411.5" y="68.2" width="20" height="743.925" fill="url(#pDF)"/>
<rect x="411.5" y="812.125" width="20" height="286.125" fill="url(#pDO)"/>
</g>

<g id="gene-headers">
<text class="gene" x="450" y="57" transform="rotate(-90 450 57)">atl_2</text>
<text class="gene" x="459.6" y="57" transform="rotate(-90 459.6 57)">enolase</text>
<text class="gene" x="469.2" y="57" transform="rotate(-90 469.2 57)">fbps</text>
<text class="gene" x="478.7" y="57" transform="rotate(-90 478.7 57)">HtpsC</text>
<text class="gene" x="488.3" y="57" transform="rotate(-90 488.3 57)">ofs</text>
<text class="gene" x="497.9" y="57" transform="rotate(-90 497.9 57)">oppA</text>
<text class="gene" x="507.5" y="57" transform="rotate(-90 507.5 57)">sao</text>
<text class="gene" x="517.1" y="57" transform="rotate(-90 517.1 57)">sbp2</text>
<text class="gene" x="526.6" y="57" transform="rotate(-90 526.6 57)">srtA</text>
<text class="gene" x="536.2" y="57" transform="rotate(-90 536.2 57)">SSU05_1311</text>
<text class="gene" x="545.8" y="57" transform="rotate(-90 545.8 57)">abpb</text>
<text class="gene" x="555.4" y="57" transform="rotate(-90 555.4 57)">clpP</text>
<text class="gene" x="565" y="57" transform="rotate(-90 565 57)">clpX</text>
<text class="gene" x="574.5" y="57" transform="rotate(-90 574.5 57)">Hp1717</text>
<text class="gene" x="584.1" y="57" transform="rotate(-90 584.1 57)">SspA</text>
<text class="gene" x="593.7" y="57" transform="rotate(-90 593.7 57)">dltA</text>
<text class="gene" x="603.3" y="57" transform="rotate(-90 603.3 57)">DPP IV</text>
<text class="gene" x="612.9" y="57" transform="rotate(-90 612.9 57)">Hp0197</text>
<text class="gene" x="622.4" y="57" transform="rotate(-90 622.4 57)">Hp0272</text>
<text class="gene" x="632" y="57" transform="rotate(-90 632 57)">IdeSsuis</text>
<text class="gene" x="641.6" y="57" transform="rotate(-90 641.6 57)">igdE</text>
<text class="gene" x="651.2" y="57" transform="rotate(-90 651.2 57)">pgdA</text>
<text class="gene" x="660.8" y="57" transform="rotate(-90 660.8 57)">sntA</text>
<text class="gene" x="670.3" y="57" transform="rotate(-90 670.3 57)">SsnA</text>
<text class="gene" x="679.9" y="57" transform="rotate(-90 679.9 57)">codY</text>
<text class="gene" x="689.5" y="57" transform="rotate(-90 689.5 57)">gidA</text>
<text class="gene" x="699.1" y="57" transform="rotate(-90 699.1 57)">luxS</text>
<text class="gene" x="708.7" y="57" transform="rotate(-90 708.7 57)">revS</text>
<text class="gene" x="718.2" y="57" transform="rotate(-90 718.2 57)">rgg</text>
<text class="gene" x="727.8" y="57" transform="rotate(-90 727.8 57)">stk</text>
<text class="gene" x="737.4" y="57" transform="rotate(-90 737.4 57)">stp1</text>
<text class="gene" x="747" y="57" transform="rotate(-90 747 57)">tran</text>
<path class="tk" d="M446.8,60v2.8M456.4,60v2.8M466,60v2.8M475.5,60v2.8M485.1,60v2.8M494.7,60v2.8M504.3,60v2.8M513.9,60v2.8M523.4,60v2.8M533,60v2.8M542.6,60v2.8M552.2,60v2.8M561.8,60v2.8M571.3,60v2.8M580.9,60v2.8M590.5,60v2.8M600.1,60v2.8M609.7,60v2.8M619.2,60v2.8M628.8,60v2.8M638.4,60v2.8M648,60v2.8M657.6,60v2.8M667.1,60v2.8M676.7,60v2.8M686.3,60v2.8M695.9,60v2.8M705.5,60v2.8M715,60v2.8M724.6,60v2.8M734.2,60v2.8M743.8,60v2.8"/>
</g>

<g id="heatmap">
<rect x="442" y="68.2" width="306.56" height="1030.05" fill="url(#grid)"/>
<g class="gr">
<rect x="509.06" y="313.45" width="9.58" height="106.275"/>
<rect x="509.06" y="427.9" width="9.58" height="670.35"/>
<rect x="499.48" y="836.65" width="9.58" height="261.6"/>
<rect x="480.32" y="836.65" width="9.58" height="261.6"/>
<rect x="624.02" y="313.45" width="9.58" height="24.525"/>
<rect x="604.86" y="427.9" width="19.16" height="408.75"/>
<rect x="604.86" y="836.65" width="38.32" height="261.6"/>
<rect x="700.66" y="313.45" width="19.16" height="784.8"/>
<rect x="738.98" y="313.45" width="9.58" height="106.275"/>
<rect x="738.98" y="812.125" width="9.58" height="286.125"/>
<rect x="528.22" y="836.65" width="19.16" height="16.35"/>
<rect x="442" y="869.35" width="9.58" height="16.35"/>
<rect x="585.7" y="836.65" width="9.58" height="179.85"/>
<rect x="585.7" y="1032.85" width="9.58" height="24.525"/>
<rect x="585.7" y="1073.725" width="9.58" height="8.175"/>
</g>
<g fill="url(#grid)">
<rect x="710.24" y="836.65" width="9.58" height="32.7"/>
<rect x="700.66" y="885.7" width="9.58" height="8.175"/>
<rect x="710.24" y="910.225" width="9.58" height="8.175"/>
<rect x="700.66" y="942.925" width="9.58" height="24.525"/>
<rect x="700.66" y="975.625" width="9.58" height="8.175"/>
<rect x="700.66" y="1057.375" width="9.58" height="8.175"/>
<rect x="710.24" y="1081.9" width="9.58" height="16.35"/>
</g>
</g>
</svg>
